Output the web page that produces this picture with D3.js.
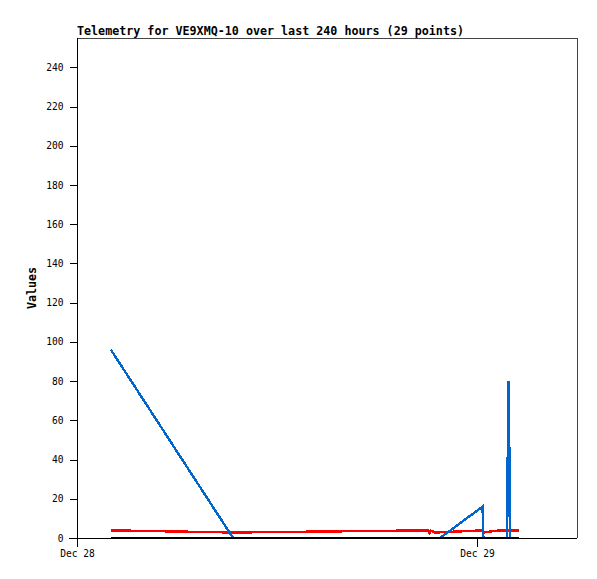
<!DOCTYPE html>
<html><head><meta charset="utf-8">
<script src="https://cdn.jsdelivr.net/npm/d3@7"></script>
<style>
body{margin:0;background:#fff;}
svg{display:block;}
text{font-family:"DejaVu Sans Mono",monospace;}
</style></head>
<body><svg id="c" width="597" height="579"></svg>
<script>
const titleText = "Telemetry for VE9XMQ-10 over last 240 hours (29 points)";
const yLabel = "Values";
const times = ["2023-12-28T02:02","2023-12-28T09:22","2023-12-28T21:04","2023-12-28T21:09","2023-12-28T21:14","2023-12-28T21:29","2023-12-28T21:47","2023-12-29T00:20","2023-12-29T00:23","2023-12-29T00:47","2023-12-29T01:23","2023-12-29T01:48","2023-12-29T01:49","2023-12-29T01:53","2023-12-29T01:57","2023-12-29T01:58","2023-12-29T02:31"];
const blueValues = [96,0,0,0,0,0,0,16,0,0,0,0,16,80,40,0,0];
const redValues = [3.9,2.8,3.9,2.6,3.8,2.8,2.9,3.9,2.8,3.3,3.9,3.9,3.9,3.9,3.9,3.9,3.9];
const blackValues = [0,0,0,0,0,0,0,0,0,0,0,0,0,0,0,0,0];
const yTicks = [0,20,40,60,80,100,120,140,160,180,200,220,240];
const xDomain = ["2023-12-28T00:00","2023-12-29T06:00"];
const xTickDates = ["2023-12-28T00:00","2023-12-29T00:00"];

const parse = d3.timeParse("%Y-%m-%dT%H:%M");
const L=77,R=577,T=38,B=538;
const svg = d3.select("#c");
const x = d3.scaleTime().domain(xDomain.map(parse)).range([L,R]);
const y = d3.scaleLinear().domain([0,255]).range([B,T]);

// frame
svg.append("path").attr("d",`M${L},${T+0.5}H${R+0.5}V${B}`).attr("fill","none").attr("stroke","#444").attr("stroke-width",1).attr("shape-rendering","crispEdges");

const pts = times.map((t,i)=>({t:parse(t),b:blueValues[i],r:redValues[i],k:blackValues[i]}));
function draw(key,color,w){
  const line = d3.line().x(d=>x(d.t)).y(d=>y(d[key]));
  svg.append("path").datum(pts).attr("d",line).attr("fill","none").attr("stroke",color).attr("stroke-width",w).attr("shape-rendering","crispEdges");
}
draw("r","#ff0000",2.4);
draw("b","#0066cc",2.4);
draw("k","#000000",2.4);

// axes
const ya = d3.axisLeft(y).tickValues(yTicks).tickSize(8).tickPadding(6).tickSizeOuter(0);
const gy = svg.append("g").attr("transform",`translate(${L+0.5},0)`).call(ya);
gy.select(".domain").remove();
svg.append("line").attr("x1",L+0.5).attr("x2",L+0.5).attr("y1",T).attr("y2",B+8).attr("stroke","#000");
const xa = d3.axisBottom(x).tickValues(xTickDates.map(parse)).tickFormat(d3.timeFormat("%b %d")).tickSize(8).tickPadding(4).tickSizeOuter(0);
const gx = svg.append("g").attr("transform",`translate(0,${B+0.5})`).call(xa);
gx.select(".domain").remove();
svg.append("line").attr("x1",L-8).attr("x2",R).attr("y1",B+0.5).attr("y2",B+0.5).attr("stroke","#000");
svg.selectAll(".tick text").attr("font-family","DejaVu Sans Mono, monospace").attr("font-size","9.6px").attr("fill","#000");
svg.selectAll(".tick line").attr("stroke","#000").attr("shape-rendering","crispEdges");

svg.append("text").attr("x",L).attr("y",35).attr("font-size","11.7px").attr("font-weight","bold").text(titleText);
svg.append("text").attr("transform",`translate(36,${(T+B)/2}) rotate(-90)`).attr("text-anchor","middle").attr("font-size","11.7px").attr("font-weight","bold").text(yLabel);
</script></body></html>
